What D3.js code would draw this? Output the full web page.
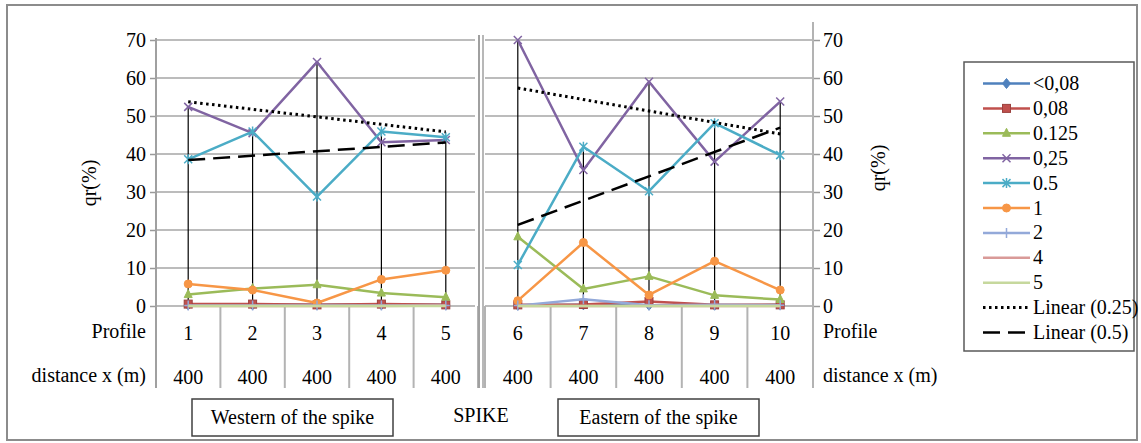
<!DOCTYPE html>
<html>
<head>
<meta charset="utf-8">
<script src="https://cdn.jsdelivr.net/npm/d3@7"></script>
<style>
  body { margin: 0; background: #fff; }
</style>
</head>
<body>
<div id="container"></div>
<script>
// categories
var profilesWest = ["1", "2", "3", "4", "5"];
var profilesEast = ["6", "7", "8", "9", "10"];
var distances = ["400", "400", "400", "400", "400", "400", "400", "400", "400", "400"];
var yTicks = [0, 10, 20, 30, 40, 50, 60, 70];

// series values, profiles 1..10
var seriesNames = ["<0,08", "0,08", "0.125", "0,25", "0.5", "1", "2", "4", "5"];
var vLt008 = [0.3, 0.3, 0.3, 0.3, 0.3, 0.2, 0.3, 0.2, 0.2, 0.3];
var v008 = [0.5, 0.5, 0.3, 0.5, 0.3, 0.3, 0.4, 1.2, 0.3, 0.3];
var v0125 = [3.0, 4.6, 5.6, 3.4, 2.3, 18.2, 4.5, 7.8, 2.8, 1.7];
var v025 = [52.4, 45.5, 64.2, 43.1, 43.7, 70.0, 35.8, 59.0, 38.0, 53.8];
var v05 = [38.6, 45.9, 28.8, 45.9, 44.4, 10.8, 41.9, 30.2, 48.1, 39.7];
var v1 = [5.8, 4.2, 0.8, 7.0, 9.4, 1.4, 16.7, 2.9, 11.8, 4.2];
var v2 = [0.1, 0.1, 0.1, 0.1, 0.1, 0.1, 1.8, 0.2, 0.3, 0.2];
var v4 = [0.0, 0.0, 0.0, 0.0, 0.1, 0.0, 0.0, 0.0, 0.0, 0.0];
var v5 = [0.0, 0.0, 0.0, 0.0, 0.0, 0.0, 0.0, 0.0, 0.0, 0.0];
var trendNames = ["Linear (0.25)", "Linear (0.5)"];

// styles
var seriesValues = [vLt008, v008, v0125, v025, v05, v1, v2, v4, v5];
var colors = ["#4f81bd", "#c0504d", "#9bbb59", "#8064a2", "#4bacc6", "#f79646", "#93a9d9", "#d99a98", "#c6d89d"];
var markers = ["diamond", "square", "triangle", "x", "star", "circle", "plus", "none", "none"];
var FONT = "'Liberation Serif', 'Times New Roman', serif";

var W = 1141, H = 443;
var svg = d3.select('#container').append('svg')
  .attr('width', W).attr('height', H);

svg.append('rect')
  .attr('x', 7).attr('y', 5).attr('width', 1130).attr('height', 435)
  .attr('fill', '#fff').attr('stroke', '#8c8c8c').attr('stroke-width', 2);

var y = d3.scaleLinear().domain([0, 70]).range([306, 40]);
var xW = d3.scaleBand().domain(profilesWest).range([156, 478]);
var xE = d3.scaleBand().domain(profilesEast).range([485, 813]);

var panels = [
  { x: xW, cats: profilesWest, off: 0 },
  { x: xE, cats: profilesEast, off: 5 }
];

function drawMarker(g, type, cx, cy, color) {
  var s = 4;
  if (type === 'diamond') {
    g.append('path').attr('d', 'M' + cx + ',' + (cy - s - 1) + 'L' + (cx + s) + ',' + cy + 'L' + cx + ',' + (cy + s + 1) + 'L' + (cx - s) + ',' + cy + 'Z')
      .attr('fill', color).attr('stroke', color);
  } else if (type === 'square') {
    g.append('rect').attr('x', cx - s).attr('y', cy - s).attr('width', 2 * s).attr('height', 2 * s)
      .attr('fill', color).attr('stroke', d3.color(color).darker(0.6));
  } else if (type === 'triangle') {
    g.append('path').attr('d', 'M' + cx + ',' + (cy - s - 1) + 'L' + (cx + s) + ',' + (cy + s - 1) + 'L' + (cx - s) + ',' + (cy + s - 1) + 'Z')
      .attr('fill', color).attr('stroke', color);
  } else if (type === 'x') {
    g.append('path').attr('d', 'M' + (cx - s) + ',' + (cy - s) + 'L' + (cx + s) + ',' + (cy + s) + 'M' + (cx + s) + ',' + (cy - s) + 'L' + (cx - s) + ',' + (cy + s))
      .attr('stroke', color).attr('stroke-width', 1.5);
  } else if (type === 'star') {
    g.append('path').attr('d', 'M' + (cx - s) + ',' + (cy - s) + 'L' + (cx + s) + ',' + (cy + s) + 'M' + (cx + s) + ',' + (cy - s) + 'L' + (cx - s) + ',' + (cy + s) + 'M' + cx + ',' + (cy - s - 1) + 'L' + cx + ',' + (cy + s + 1))
      .attr('stroke', color).attr('stroke-width', 1.5);
  } else if (type === 'circle') {
    g.append('circle').attr('cx', cx).attr('cy', cy).attr('r', s)
      .attr('fill', color).attr('stroke', color);
  } else if (type === 'plus') {
    g.append('path').attr('d', 'M' + (cx - s) + ',' + cy + 'L' + (cx + s) + ',' + cy + 'M' + cx + ',' + (cy - s - 1) + 'L' + cx + ',' + (cy + s + 1))
      .attr('stroke', color).attr('stroke-width', 1.5);
  }
}

// ===== gridlines and category separators
panels.forEach(function(p) {
  var r = p.x.range();
  svg.append('g').selectAll('line').data(yTicks).enter().append('line')
    .attr('x1', r[0]).attr('x2', r[1] - (p.off ? 0 : 3))
    .attr('y1', function(d) { return y(d); }).attr('y2', function(d) { return y(d); })
    .attr('stroke', '#a6a6a6').attr('stroke-width', 1.5);

  var bounds = p.cats.map(function(c) { return p.x(c); }).concat([r[1]]);
  svg.append('g').selectAll('line').data(bounds).enter().append('line')
    .attr('x1', function(d) { return d; }).attr('x2', function(d) { return d; })
    .attr('y1', y(0)).attr('y2', 388)
    .attr('stroke', '#b3b3b3').attr('stroke-width', 2);
});

// panel divider
svg.append('line').attr('x1', 479).attr('x2', 479).attr('y1', 35).attr('y2', 388)
  .attr('stroke', '#a0a0a0').attr('stroke-width', 2);
svg.append('line').attr('x1', 483).attr('x2', 483).attr('y1', 35).attr('y2', 388)
  .attr('stroke', '#b8b8b8').attr('stroke-width', 2);

// ===== y axes
var axL = svg.append('g').attr('transform', 'translate(156,0)')
  .call(d3.axisLeft(y).tickValues(yTicks).tickSize(6).tickPadding(4));
var axR = svg.append('g').attr('transform', 'translate(813,0)')
  .call(d3.axisRight(y).tickValues(yTicks).tickSize(7).tickPadding(3));
[axL, axR].forEach(function(ax) {
  ax.attr('font-family', null).attr('font-size', 20);
  ax.select('.domain').remove();
  ax.selectAll('line').attr('stroke', '#999').attr('stroke-width', 1.5);
  ax.selectAll('text').attr('font-size', 20).attr('fill', '#000');
});
svg.append('line').attr('x1', 156).attr('x2', 156).attr('y1', 38).attr('y2', 388)
  .attr('stroke', '#a0a0a0').attr('stroke-width', 2);
svg.append('line').attr('x1', 813).attr('x2', 813).attr('y1', 22).attr('y2', 388)
  .attr('stroke', '#b3b3b3').attr('stroke-width', 2);

svg.append('text').attr('transform', 'translate(96,183) rotate(-90)')
  .attr('text-anchor', 'middle').attr('font-size', 20).text('qr(%)');
svg.append('text').attr('transform', 'translate(885,168) rotate(-90)')
  .attr('text-anchor', 'middle').attr('font-size', 20).text('qr(%)');

// ===== category labels
panels.forEach(function(p) {
  var half = p.x.bandwidth() / 2;
  svg.append('g').selectAll('text').data(p.cats).enter().append('text')
    .attr('x', function(d) { return p.x(d) + half; }).attr('y', 340)
    .attr('text-anchor', 'middle').attr('font-size', 20)
    .text(function(d) { return d; });
  svg.append('g').selectAll('text').data(p.cats).enter().append('text')
    .attr('x', function(d) { return p.x(d) + half; }).attr('y', 384)
    .attr('text-anchor', 'middle').attr('font-size', 20)
    .text(function(d, i) { return distances[i + p.off]; });
});
svg.append('text').attr('x', 146).attr('y', 338).attr('text-anchor', 'end').attr('font-size', 20).text('Profile');
svg.append('text').attr('x', 146).attr('y', 382).attr('text-anchor', 'end').attr('font-size', 20).text('distance x (m)');
svg.append('text').attr('x', 823).attr('y', 338).attr('font-size', 20).text('Profile');
svg.append('text').attr('x', 823).attr('y', 382).attr('font-size', 20).text('distance x (m)');

// ===== high-low lines
panels.forEach(function(p) {
  var g = svg.append('g');
  p.cats.forEach(function(c, i) {
    var vals = seriesValues.map(function(s) { return s[i + p.off]; });
    var cx = p.x(c) + p.x.bandwidth() / 2;
    g.append('line').attr('x1', cx).attr('x2', cx)
      .attr('y1', y(d3.max(vals))).attr('y2', y(d3.min(vals)))
      .attr('stroke', '#000').attr('stroke-width', 1.2);
  });
});

// ===== series
panels.forEach(function(p) {
  var half = p.x.bandwidth() / 2;
  seriesValues.forEach(function(vals, si) {
    var pts = p.cats.map(function(c, i) { return [p.x(c) + half, y(vals[i + p.off])]; });
    svg.append('path').attr('d', d3.line()(pts))
      .attr('fill', 'none').attr('stroke', colors[si]).attr('stroke-width', 2.5)
      .attr('stroke-linejoin', 'round');
    var g = svg.append('g');
    pts.forEach(function(pt) { drawMarker(g, markers[si], pt[0], pt[1], colors[si]); });
  });
});

// ===== linear trend lines (least squares per panel)
var trendSeries = [v025, v05];
var trendDash = ['2.5,3.5', '17,8'];
panels.forEach(function(p) {
  var half = p.x.bandwidth() / 2;
  trendSeries.forEach(function(vals, ti) {
    var ys = vals.slice(p.off, p.off + 5);
    var xs = [1, 2, 3, 4, 5];
    var mx = d3.mean(xs), my = d3.mean(ys);
    var slope = d3.sum(xs, function(x, i) { return (x - mx) * (ys[i] - my); }) /
                d3.sum(xs, function(x) { return (x - mx) * (x - mx); });
    var first = p.cats[0], last = p.cats[4];
    svg.append('line')
      .attr('x1', p.x(first) + half).attr('y1', y(my + slope * (1 - mx)))
      .attr('x2', p.x(last) + half).attr('y2', y(my + slope * (5 - mx)))
      .attr('stroke', '#000').attr('stroke-width', ti === 0 ? 3 : 2.5)
      .attr('stroke-dasharray', trendDash[ti]);
  });
});

// ===== legend
var lg = svg.append('g');
lg.append('rect').attr('x', 964).attr('y', 62).attr('width', 170).attr('height', 289)
  .attr('fill', '#fff').attr('stroke', '#595959').attr('stroke-width', 1.5);
var legendItems = seriesNames.concat(trendNames);
legendItems.forEach(function(name, i) {
  var ly = 83.5 + i * 24.9;
  if (i < seriesNames.length) {
    lg.append('line').attr('x1', 983).attr('x2', 1030).attr('y1', ly).attr('y2', ly)
      .attr('stroke', colors[i]).attr('stroke-width', 2.5);
    drawMarker(lg, markers[i], 1006.5, ly, colors[i]);
  } else {
    lg.append('line').attr('x1', 983).attr('x2', 1030).attr('y1', ly).attr('y2', ly)
      .attr('stroke', '#000').attr('stroke-width', i === 9 ? 3 : 2.5)
      .attr('stroke-dasharray', i === 9 ? '2.5,3.5' : '17,8');
  }
  lg.append('text').attr('x', 1033).attr('y', ly + 6.5).attr('font-size', 20).text(name);
});

// ===== side boxes
[{ x: 192, w: 201, t: 'Western of the spike' }, { x: 558, w: 201, t: 'Eastern of the spike' }].forEach(function(b) {
  svg.append('rect').attr('x', b.x).attr('y', 399).attr('width', b.w).attr('height', 37)
    .attr('fill', '#fff').attr('stroke', '#404040').attr('stroke-width', 1.5);
  svg.append('text').attr('x', b.x + b.w / 2).attr('y', 424).attr('text-anchor', 'middle')
    .attr('font-size', 20).text(b.t);
});
svg.append('text').attr('x', 481).attr('y', 422).attr('text-anchor', 'middle').attr('font-size', 20).text('SPIKE');

// all text in Times-like serif
svg.selectAll('text').style('font-family', FONT).style('fill', '#000');
</script>
</body>
</html>
